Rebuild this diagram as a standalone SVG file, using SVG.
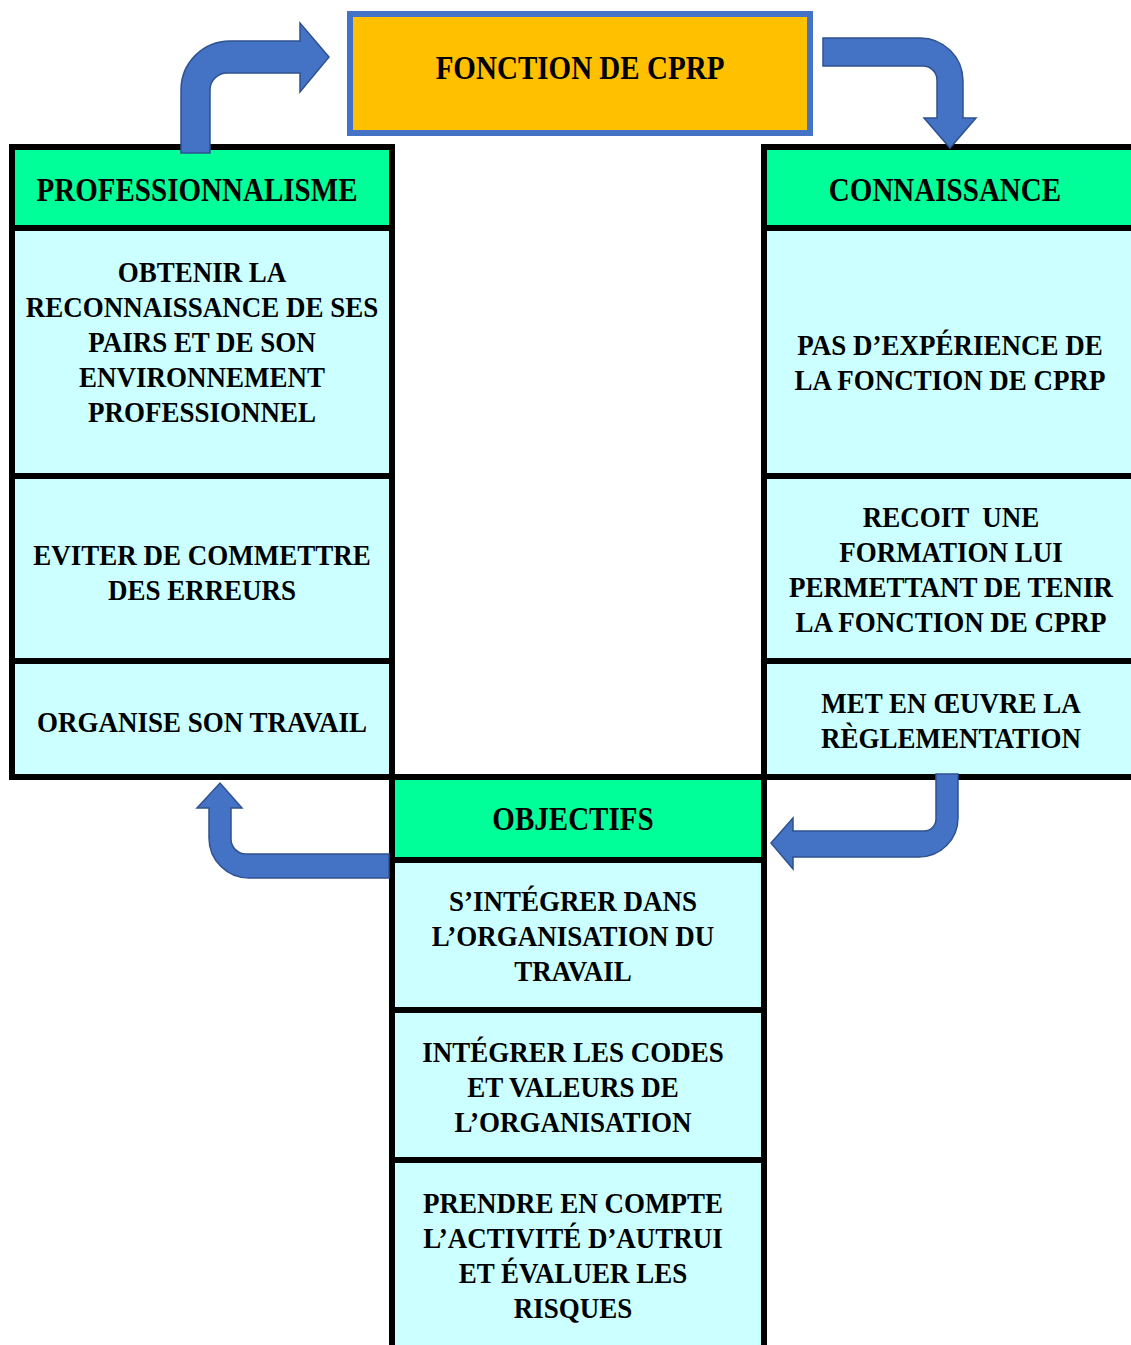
<svg xmlns="http://www.w3.org/2000/svg" width="1131" height="1345" viewBox="0 0 1131 1345">
<style>
.hd{fill:#00FF99;stroke:#000;stroke-width:6}
.bd{fill:#CCFFFF;stroke:#000;stroke-width:6}
.t{font-family:"Liberation Serif","Times New Roman",serif;font-weight:bold;fill:#000;text-anchor:middle}
.h{font-size:33px}
.b{font-size:30px}
.arr{fill:#4472C4;stroke:#2F528F;stroke-width:1.5;stroke-linejoin:miter}
</style>
<rect width="1131" height="1345" fill="#fff"/>

<g id="fonction">
<rect x="350" y="14" width="460" height="119" fill="#FFC000" stroke="#4472C4" stroke-width="6"/>
<text class="t h" transform="translate(580,79) scale(0.88,1)" x="0" y="0">FONCTION DE CPRP</text>
</g>

<g id="professionnalisme">
<rect class="hd" x="12" y="147" width="380" height="81"/>
<text class="t h" transform="translate(197,201) scale(0.88,1)" x="0" y="0">PROFESSIONNALISME</text>
</g>
<g id="pro-1">
<rect class="bd" x="12" y="228" width="380" height="248"/>
<text class="t b" transform="translate(202,282) scale(0.9,1)"><tspan x="0" y="0">OBTENIR LA</tspan><tspan x="0" y="35">RECONNAISSANCE DE SES</tspan><tspan x="0" y="70">PAIRS ET DE SON</tspan><tspan x="0" y="105">ENVIRONNEMENT</tspan><tspan x="0" y="140">PROFESSIONNEL</tspan></text>
</g>
<g id="pro-2">
<rect class="bd" x="12" y="476" width="380" height="185"/>
<text class="t b" transform="translate(202,565) scale(0.9,1)"><tspan x="0" y="0">EVITER DE COMMETTRE</tspan><tspan x="0" y="35">DES ERREURS</tspan></text>
</g>
<g id="pro-3">
<rect class="bd" x="12" y="661" width="380" height="116"/>
<text class="t b" transform="translate(202,732) scale(0.9,1)" x="0" y="0">ORGANISE SON TRAVAIL</text>
</g>

<g id="connaissance">
<rect class="hd" x="764" y="147" width="380" height="81"/>
<text class="t h" transform="translate(945,201) scale(0.88,1)" x="0" y="0">CONNAISSANCE</text>
</g>
<g id="con-1">
<rect class="bd" x="764" y="228" width="380" height="248"/>
<text class="t b" transform="translate(950,355) scale(0.9,1)"><tspan x="0" y="0">PAS D’EXPÉRIENCE DE</tspan><tspan x="0" y="35">LA FONCTION DE CPRP</tspan></text>
</g>
<g id="con-2">
<rect class="bd" x="764" y="476" width="380" height="185"/>
<text class="t b" xml:space="preserve" transform="translate(951,527) scale(0.9,1)"><tspan x="0" y="0">RECOIT  UNE</tspan><tspan x="0" y="35">FORMATION LUI</tspan><tspan x="0" y="70">PERMETTANT DE TENIR</tspan><tspan x="0" y="105">LA FONCTION DE CPRP</tspan></text>
</g>
<g id="con-3">
<rect class="bd" x="764" y="661" width="380" height="116"/>
<text class="t b" transform="translate(951,713) scale(0.9,1)"><tspan x="0" y="0">MET EN ŒUVRE LA</tspan><tspan x="0" y="35">RÈGLEMENTATION</tspan></text>
</g>

<g id="objectifs">
<rect class="hd" x="392" y="777" width="372" height="83"/>
<text class="t h" transform="translate(573,830) scale(0.88,1)" x="0" y="0">OBJECTIFS</text>
</g>
<g id="obj-1">
<rect class="bd" x="392" y="860" width="372" height="150"/>
<text class="t b" transform="translate(573,911) scale(0.9,1)"><tspan x="0" y="0">S’INTÉGRER DANS</tspan><tspan x="0" y="35">L’ORGANISATION DU</tspan><tspan x="0" y="70">TRAVAIL</tspan></text>
</g>
<g id="obj-2">
<rect class="bd" x="392" y="1010" width="372" height="150"/>
<text class="t b" transform="translate(573,1062) scale(0.9,1)"><tspan x="0" y="0">INTÉGRER LES CODES</tspan><tspan x="0" y="35">ET VALEURS DE</tspan><tspan x="0" y="70">L’ORGANISATION</tspan></text>
</g>
<g id="obj-3">
<rect class="bd" x="392" y="1160" width="372" height="200"/>
<text class="t b" transform="translate(573,1213) scale(0.9,1)"><tspan x="0" y="0">PRENDRE EN COMPTE</tspan><tspan x="0" y="35">L’ACTIVITÉ D’AUTRUI</tspan><tspan x="0" y="70">ET ÉVALUER LES</tspan><tspan x="0" y="105">RISQUES</tspan></text>
</g>

<g id="connectors">
<path class="arr" d="M181,153 L181,90 A49,49 0 0 1 230,41 L300,41 L300,23 L329,57 L300,92 L300,73 L227,73 A17,17 0 0 0 210,90 L210,153 Z"/>
<path class="arr" d="M823,38 L920,38 A43,43 0 0 1 963,81 L963,118 L976,118 L950,148 L924,118 L937,118 L937,80 A14,14 0 0 0 923,66 L823,66 Z"/>
<path class="arr" d="M936,774 L958,774 L958,818 A39,39 0 0 1 919,857 L793,857 L793,869 L771,843 L793,818 L793,831 L924,831 A12,12 0 0 0 936,819 Z"/>
<path class="arr" d="M389,854 L246,854 A15,15 0 0 1 231,839 L231,808 L242,808 L220,783 L197,808 L209,808 L209,838 A40,40 0 0 0 249,878 L389,878 Z"/>
</g>
</svg>
